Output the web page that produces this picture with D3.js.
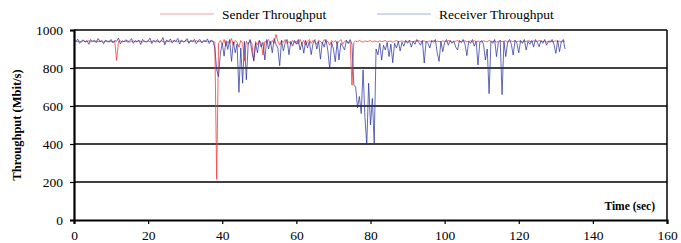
<!DOCTYPE html>
<html>
<head>
<meta charset="utf-8">
<script src="https://cdn.jsdelivr.net/npm/d3@7"></script>
<style>
  body { margin: 0; background: #fff; }
</style>
</head>
<body>
<div id="chart"></div>
<script>
// samples every half second, starting at t = 0
var sampleStep = 0.5;

var senderThroughput = [
    940, 942, 938, 941, 936, 943, 939, 940, 944, 937, 941, 939, 942, 938, 940, 945, 936, 941, 939, 942,
    938, 941, 940, 840, 939, 943, 937, 941, 940, 944, 936, 940, 942, 939, 938, 943, 940, 937, 941, 939,
    942, 938, 940, 944, 937, 941, 939, 943, 940, 936, 942, 940, 938, 941, 945, 939, 937, 942, 940, 938,
    941, 943, 937, 940, 942, 938, 944, 939, 940, 936, 941, 943, 938, 940, 942, 939, 935, 214, 930, 945,
    925, 950, 915, 940, 930, 955, 920, 945, 935, 910, 945, 930, 838, 940, 925, 945, 930, 835, 940, 920,
    945, 930, 868, 940, 935, 950, 925, 945, 930, 977, 940, 920, 945, 935, 950, 930, 940, 925, 945, 935,
    940, 925, 950, 930, 945, 920, 940, 950, 930, 945, 935, 925, 945, 940, 930, 950, 935, 940, 920, 945,
    935, 945, 930, 940, 950, 925, 940, 945, 930, 940, 710, 935, 942, 938, 945, 940, 936, 943, 939, 941,
    944, 938, 942, 940, 937, 943, 939, 941, 945, 938, 940, 942, 936, 941, 944, 939, 940, 943, 937, 941,
    939, 944, 940, 937, 942, 940, 945, 938, 941, 943, 936, 940, 942, 939, 944, 938, 941, 940, 937, 943,
    940, 938, 944, 941, 936, 942, 940, 945, 939, 937, 941, 943, 938, 940, 942, 936, 944, 939, 941, 940,
    937, 943, 940, 938, 945, 941, 939, 942, 936, 940, 944, 938, 941, 943, 937, 940, 942, 939, 945, 938,
    941, 940, 936, 943, 939, 944, 940, 937, 942, 941, 938, 945, 940, 939, 943, 936, 941, 942, 938, 940,
    943, 939, 941, 937, 942, 940
];

var receiverThroughput = [
    945, 938, 952, 930, 941, 948, 936, 944, 925, 950, 940, 946, 933, 955, 939, 942, 928, 947, 941, 936,
    950, 932, 944, 940, 958, 927, 943, 938, 949, 935, 941, 955, 930, 944, 939, 946, 924, 951, 940, 937,
    943, 957, 929, 945, 938, 950, 934, 941, 960, 922, 946, 939, 953, 931, 944, 940, 956, 926, 948, 937,
    942, 955, 930, 946, 939, 951, 928, 944, 950, 932, 945, 938, 953, 929, 947, 940, 905, 790, 755, 880,
    930, 862, 944, 898, 950, 835, 938, 880, 926, 672, 905, 720, 940, 738, 925, 950, 885, 840, 930, 880,
    945, 910, 935, 842, 950, 900, 940, 880, 955, 925, 905, 812, 945, 890, 935, 950, 870, 940, 915, 945,
    925, 950, 895, 935, 878, 945, 905, 940, 870, 930, 950, 900, 940, 847, 935, 910, 950, 890, 795, 935,
    900, 833, 940, 842, 930, 915, 895, 945, 930, 950, 925, 710, 700, 590, 650, 560, 790, 540, 395, 720,
    500, 640, 405, 900, 870, 930, 842, 920, 895, 935, 860, 925, 828, 930, 905, 940, 890, 935, 915, 945,
    930, 945, 910, 940, 925, 950, 935, 920, 945, 826, 940, 930, 905, 945, 935, 950, 880, 835, 940, 886,
    935, 950, 920, 945, 930, 940, 910, 895, 945, 935, 950, 925, 865, 940, 930, 950, 915, 940, 816, 935,
    945, 925, 842, 900, 665, 940, 930, 950, 860, 935, 945, 660, 940, 860, 935, 950, 925, 868, 945, 930,
    880, 945, 930, 950, 895, 940, 925, 945, 910, 950, 935, 912, 945, 930, 950, 920, 940, 935, 950, 925,
    877, 945, 886, 940, 950, 900
];

var xTicks = [0, 20, 40, 60, 80, 100, 120, 140, 160];
var yTicks = [0, 200, 400, 600, 800, 1000];
var seriesNames = ["Sender Throughput", "Receiver Throughput"];

var width = 681, height = 243;
var margin = {left: 74, right: 14, top: 30, bottom: 23};
var serif = "'Liberation Serif', 'Times New Roman', serif";

var svg = d3.select("#chart").append("svg")
    .attr("width", width)
    .attr("height", height)
    .style("font-family", serif);

var x = d3.scaleLinear().domain([0, 160]).range([margin.left, width - margin.right]);
var y = d3.scaleLinear().domain([0, 1000]).range([height - margin.bottom, margin.top]);

// grid lines
svg.append("g").selectAll("line")
    .data(yTicks.filter(function(d) { return d > 0; }))
    .enter().append("line")
    .attr("x1", x(0)).attr("x2", x(160))
    .attr("y1", function(d) { return y(d); })
    .attr("y2", function(d) { return y(d); })
    .attr("stroke", "#000")
    .attr("stroke-width", 1.5);
// right border
svg.append("line")
    .attr("x1", x(160)).attr("x2", x(160))
    .attr("y1", y(0)).attr("y2", y(1000))
    .attr("stroke", "#000").attr("stroke-width", 1.5);

// data lines
var line = d3.line()
    .x(function(d, i) { return x(i * sampleStep); })
    .y(function(d) { return y(d); });

svg.append("path")
    .datum(senderThroughput)
    .attr("fill", "none")
    .attr("stroke", "#f03c3c")
    .attr("stroke-width", 0.8)
    .attr("d", line);
svg.append("path")
    .datum(receiverThroughput)
    .attr("fill", "none")
    .attr("stroke", "#24309a")
    .attr("stroke-width", 0.8)
    .attr("stroke-opacity", 0.9)
    .attr("d", line);

// axes
var yAxis = d3.axisLeft(y).tickValues(yTicks).tickFormat(d3.format("d"))
    .tickSize(4).tickPadding(7);
var yg = svg.append("g")
    .attr("transform", "translate(" + margin.left + ",0)")
    .call(yAxis);
yg.select(".domain").attr("stroke-width", 2.2);
yg.selectAll(".tick line").attr("stroke-width", 1.2);

var xAxis = d3.axisBottom(x).tickValues(xTicks).tickFormat(d3.format("d"))
    .tickSize(4).tickPadding(6);
var xg = svg.append("g")
    .attr("transform", "translate(0," + y(0) + ")")
    .call(xAxis);
xg.select(".domain").attr("stroke-width", 2.2);
xg.selectAll(".tick line").attr("stroke-width", 1.2);
[yg, xg].forEach(function(g) {
    g.attr("font-family", serif).attr("font-size", 13.5);
    g.selectAll("text").attr("fill", "#000");
});

// axis titles
svg.append("text")
    .attr("transform", "translate(21," + ((y(0) + y(1000)) / 2) + ") rotate(-90)")
    .attr("text-anchor", "middle")
    .attr("font-family", serif)
    .attr("font-weight", "bold")
    .attr("font-size", 12.5)
    .text("Throughput (Mbit/s)");
svg.append("text")
    .attr("x", x(160) - 12)
    .attr("y", y(0) - 10)
    .attr("text-anchor", "end")
    .attr("font-family", serif)
    .attr("font-weight", "bold")
    .attr("font-size", 11.5)
    .text("Time (sec)");

// legend
var legendColors = ["#f4a2a2", "#a7afdb"];
var legendX = [160, 377];
var legend = svg.append("g").selectAll("g")
    .data(seriesNames)
    .enter().append("g")
    .attr("transform", function(d, i) { return "translate(" + legendX[i] + ",14)"; });
legend.append("line")
    .attr("x1", 0).attr("x2", 54)
    .attr("stroke", function(d, i) { return legendColors[i]; })
    .attr("stroke-width", 1.2);
legend.append("text")
    .attr("x", 62).attr("dy", "0.35em")
    .attr("font-family", serif)
    .attr("font-size", 13.5)
    .text(function(d) { return d; });
</script>
</body>
</html>
